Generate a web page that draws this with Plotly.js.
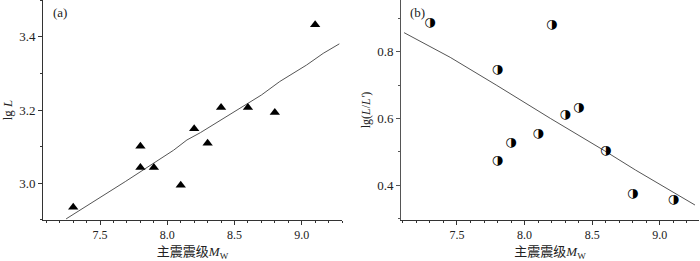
<!DOCTYPE html>
<html>
<head>
<meta charset="utf-8">
<script src="https://cdn.plot.ly/plotly-3.0.1.min.js"></script>
<style>html,body{margin:0;padding:0;background:#fff;}#chart{width:700px;height:261px;}</style>
</head>
<body>
<div id="chart"></div>
<script>
// Panel (a): lg L vs Mw
const magA = [7.3, 7.8, 7.8, 7.9, 8.1, 8.2, 8.3, 8.4, 8.6, 8.8, 9.1];
const lgL = [2.934, 3.101, 3.043, 3.043, 2.994, 3.149, 3.109, 3.207, 3.207, 3.193, 3.433];
const fitAx = [7.247, 7.687, 8.047, 8.146, 8.246, 8.70, 8.837, 9.036, 9.160, 9.28];
const fitAy = [2.902, 3.004, 3.090, 3.118, 3.138, 3.241, 3.278, 3.323, 3.355, 3.381];

// Panel (b): lg(L/L') vs Mw
const magB = [7.3, 8.2, 7.8, 8.4, 8.3, 8.1, 7.9, 7.8, 8.6, 8.8, 9.1];
const lgRatio = [0.887, 0.880, 0.747, 0.632, 0.610, 0.553, 0.527, 0.473, 0.502, 0.375, 0.357];
const fitBx = [7.109, 7.45, 7.79, 8.19, 8.59, 8.82, 9.26];
const fitBy = [0.857, 0.783, 0.700, 0.600, 0.503, 0.445, 0.340];

const xTickVals = [7.5, 8.0, 8.5, 9.0];
const xTickText = ['7.5', '8.0', '8.5', '9.0'];
const yTickValsA = [3.0, 3.2, 3.4];
const yTickTextA = ['3.0', '3.2', '3.4'];
const yTickValsB = [0.4, 0.6, 0.8];
const yTickTextB = ['0.4', '0.6', '0.8'];

const serif = 'Liberation Serif';
const xTitle = '<span style="font-family:Noto Sans CJK SC">主震震级</span><i>M</i><sub>W</sub>';

const traces = [
  {x: fitAx, y: fitAy, mode: 'lines', line: {color: '#555', width: 1}, xaxis: 'x', yaxis: 'y', hoverinfo: 'skip'},
  {x: magA, y: lgL, mode: 'markers', marker: {symbol: 'triangle-up', size: 9, color: '#000'}, xaxis: 'x', yaxis: 'y'},
  {x: fitBx, y: fitBy, mode: 'lines', line: {color: '#555', width: 1}, xaxis: 'x2', yaxis: 'y2', hoverinfo: 'skip'},
  {x: magB, y: lgRatio, mode: 'text', text: magB.map(() => '◑'), textposition: 'middle center',
   textfont: {family: 'DejaVu Sans', size: 13, color: '#000'}, xaxis: 'x2', yaxis: 'y2'}
];

function xax(domain, anchor) {
  return {
    domain: domain, anchor: anchor, range: [7.075, 9.30],
    tickvals: xTickVals, ticktext: xTickText, ticks: 'outside', ticklen: 4, tickwidth: 1, tickcolor: '#333',
    minor: {dtick: 0.1, ticks: 'outside', ticklen: 2, tickcolor: '#333', showgrid: false},
    showline: true, linecolor: '#333', linewidth: 1, showgrid: false, zeroline: false,
    tickfont: {family: serif, size: 12, color: '#222'},
    title: {text: xTitle, font: {family: serif, size: 13, color: '#222'}, standoff: 3}
  };
}

const layout = {
  width: 700, height: 261,
  margin: {l: 0, r: 0, t: 0, b: 41},
  paper_bgcolor: '#fff', plot_bgcolor: '#fff',
  showlegend: false,
  xaxis: xax([0.0614, 0.4886], 'y'),
  xaxis2: Object.assign(xax([0.573, 0.9986], 'y2'), {range: [7.087, 9.29]}),
  yaxis: {
    domain: [0, 1], anchor: 'x', range: [2.899, 3.501],
    tickvals: yTickValsA, ticktext: yTickTextA, ticks: 'outside', ticklen: 4, tickcolor: '#333',
    minor: {dtick: 0.1, ticks: 'outside', ticklen: 2, tickcolor: '#333', showgrid: false},
    showline: true, linecolor: '#333', linewidth: 1, showgrid: false, zeroline: false,
    tickfont: {family: serif, size: 13, color: '#222'},
    title: {text: 'lg <i>L</i>', font: {family: serif, size: 13, color: '#222'}, standoff: 4}
  },
  yaxis2: {
    domain: [0, 1], anchor: 'x2', range: [0.295, 0.955],
    tickvals: yTickValsB, ticktext: yTickTextB, ticks: 'outside', ticklen: 4, tickcolor: '#555',
    minor: {dtick: 0.1, ticks: 'outside', ticklen: 2, tickcolor: '#555', showgrid: false},
    showline: true, linecolor: '#555', linewidth: 1, showgrid: false, zeroline: false,
    tickfont: {family: serif, size: 13, color: '#222'},
    title: {text: 'lg(<i>L</i>/<i>L\'</i>)', font: {family: serif, size: 12, color: '#222'}, standoff: 4}
  },
  annotations: [
    {text: '(a)', xref: 'paper', yref: 'paper', x: 51/700, y: 1 - 13/220, xanchor: 'left', yanchor: 'middle',
     showarrow: false, font: {family: serif, size: 13, color: '#222'}},
    {text: '(b)', xref: 'paper', yref: 'paper', x: 408/700, y: 1 - 12/220, xanchor: 'left', yanchor: 'middle',
     showarrow: false, font: {family: serif, size: 13, color: '#222'}}
  ]
};

Plotly.newPlot('chart', traces, layout, {staticPlot: true, displayModeBar: false});
</script>
</body>
</html>
